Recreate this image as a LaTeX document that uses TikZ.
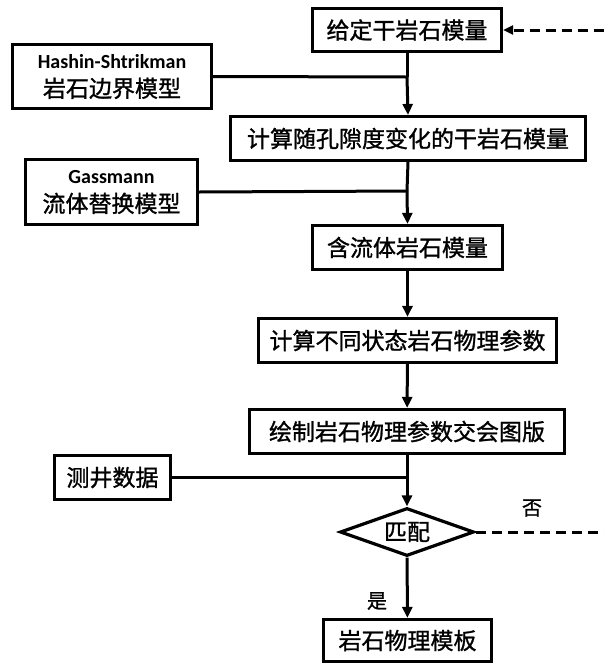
\documentclass[tikz,border=0pt]{standalone}
\usepackage{fontspec}
\setmainfont{Carlito}
\newfontfamily\lat{Carlito}
\newfontfamily\cjk[FakeBold=1.2]{Noto Sans CJK SC}
\usetikzlibrary{arrows.meta,shapes.geometric}
\begin{document}
\begin{tikzpicture}[x=1pt,y=-1pt,
  box/.style={draw,line width=3.2pt,inner sep=0pt,align=center,font=\cjk\fontsize{23}{28}\selectfont},
  flow/.style={line width=3pt,-{Triangle[length=11pt,width=10pt]}},
  plain/.style={line width=3pt},
  loop/.style={line width=3pt,dash pattern=on 10pt off 6pt},
  lbl/.style={font=\cjk\fontsize{20}{24}\selectfont,inner sep=0pt}]
\useasboundingbox (0,0) rectangle (604,665);
\node[box,minimum width=189pt,minimum height=43pt] (b1) at (407,30) {给定干岩石模量};
\node[box,minimum width=199pt,minimum height=64pt] (hs) at (112,76.5) {{\lat\bfseries\fontsize{20}{24}\selectfont Hashin-Shtrikman}\\[1pt]岩石边界模型};
\node[box,minimum width=355pt,minimum height=44pt] (b2) at (408,138.5) {计算随孔隙度变化的干岩石模量};
\node[box,minimum width=172pt,minimum height=65pt] (gs) at (111.5,192) {{\lat\bfseries\fontsize{20}{24}\selectfont Gassmann}\\[1pt]流体替换模型};
\node[box,minimum width=190pt,minimum height=44pt] (b3) at (407.5,247.5) {含流体岩石模量};
\node[box,minimum width=298pt,minimum height=44pt] (b4) at (407.5,340.5) {计算不同状态岩石物理参数};
\node[box,minimum width=315pt,minimum height=44pt] (b5) at (407,431.5) {绘制岩石物理参数交会图版};
\node[box,minimum width=116pt,minimum height=44pt] (wl) at (112.5,477.5) {测井数据};
\node[draw,diamond,aspect=2.74,line width=3.2pt,inner sep=0pt,minimum width=134pt,minimum height=48pt,font=\cjk\fontsize{23}{28}\selectfont] (dm) at (407,532) {匹配};
\node[box,minimum width=168pt,minimum height=42pt] (b6) at (407.5,640.5) {岩石物理模板};
\coordinate (j1) at (407,77);
\coordinate (j2) at (407,191);
\coordinate (j3) at (407,477.5);
\coordinate (eR) at (604,532);
\coordinate (eT) at (604,30);
\draw[plain] (b1.south) -- (j1);
\draw[flow] (j1) -- (b2.north);
\draw[plain] (hs.east) -- (j1);
\draw[plain] (b2.south) -- (j2);
\draw[flow] (j2) -- (b3.north);
\draw[plain] (gs.east) -- (j2);
\draw[flow] (b3) -- (b4);
\draw[flow] (b4) -- (b5);
\draw[plain] (b5.south) -- (j3);
\draw[flow] (j3) -- (dm.north);
\draw[plain] (wl.east) -- (j3);
\draw[flow] (dm) -- (b6);
\draw[loop] (dm.east) -- (eR);
\draw[loop,-{Triangle[length=10pt,width=9pt]}] (eT) -- (b1.east);
\node[lbl] (no) at (532,508) {否};
\node[lbl] (yes) at (377,601) {是};
\end{tikzpicture}
\end{document}
